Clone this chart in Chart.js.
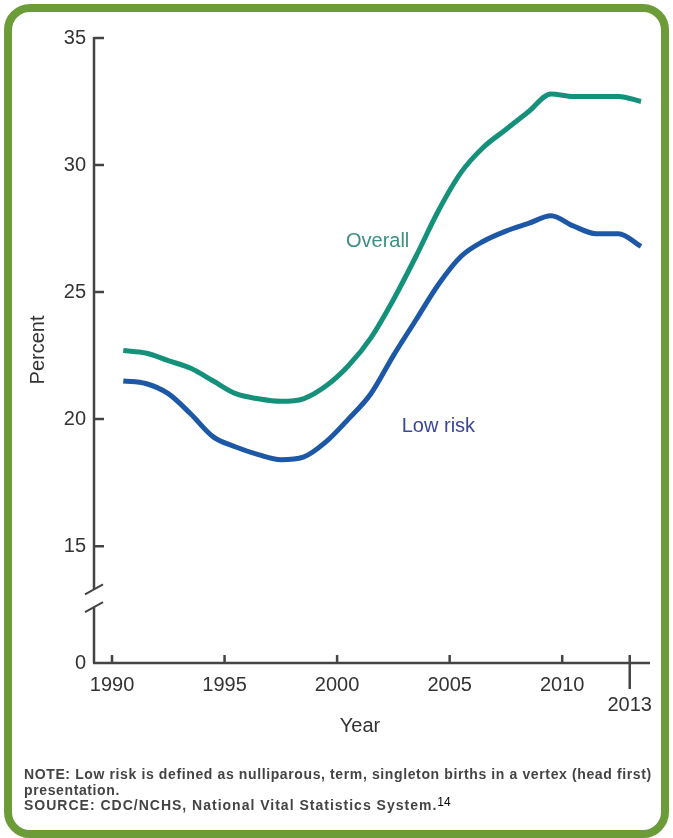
<!DOCTYPE html>
<html>
<head>
<meta charset="utf-8">
<script src="https://cdn.jsdelivr.net/npm/chart.js@4.4.1/dist/chart.umd.min.js"></script>
<style>
  html, body { margin: 0; padding: 0; background: #fff; }
  body { width: 673px; height: 838px; position: relative; overflow: hidden; font-family: "Liberation Sans", Arial, sans-serif; }
  #myChart { position: absolute; left: 0; top: 0; }
  .frame { position: absolute; left: 4px; top: 4px; width: 649px; height: 818px; border: 8px solid #6b9c38; border-radius: 26px; pointer-events: none; }
  .note { position: absolute; left: 24px; top: 767px; width: 645px; font-size: 14px; font-weight: bold; letter-spacing: 0.62px; line-height: 15.5px; color: #444; white-space: nowrap; }
  .note .src { letter-spacing: 1.0px; }
  .note sup { font-size: 12px; font-weight: normal; letter-spacing: 0; color: #000; position: relative; top: -4px; vertical-align: baseline; }
</style>
</head>
<body>
<canvas id="myChart" width="673" height="838"></canvas>
<div class="frame"></div>
<div class="note">
  NOTE: Low risk is defined as nulliparous, term, singleton births in a vertex (head first)<br>
  presentation.<br>
  <span class="src">SOURCE: CDC/NCHS, National Vital Statistics System.</span><sup>14</sup>
</div>
<script>
// annual cesarean rates, percent
const years = [1990, 1991, 1992, 1993, 1994, 1995, 1996, 1997, 1998, 1999, 2000, 2001,
               2002, 2003, 2004, 2005, 2006, 2007, 2008, 2009, 2010, 2011, 2012, 2013];
const overall = [22.7, 22.6, 22.3, 22.0, 21.5, 21.0, 20.8, 20.7, 20.8, 21.3, 22.1, 23.2,
                 24.7, 26.4, 28.2, 29.7, 30.7, 31.4, 32.1, 32.8, 32.7, 32.7, 32.7, 32.5];
const lowRisk = [21.5, 21.4, 21.0, 20.2, 19.3, 18.9, 18.6, 18.4, 18.5, 19.1, 20.0, 21.0,
                 22.5, 23.9, 25.3, 26.4, 27.0, 27.4, 27.7, 28.0, 27.6, 27.3, 27.3, 26.8];
const xTicks = [1990, 1995, 2000, 2005, 2010, 2013];
const yTicks = [15, 20, 25, 30, 35];
const yBase = 10.4;   // where the broken axis shows "0"
const yBreak = [12.6, 13.3];

const axisColor = '#444';
const tealColor = '#15917b';
const blueColor = '#1c58a6';

// points sit at mid-year
const toPoints = (vals) => vals.map((v, i) => ({ x: years[i] + 0.5, y: v }));

const axesPlugin = {
  id: 'axesPlugin',
  afterDraw(chart) {
    const ctx = chart.ctx;
    const xs = chart.scales.x;
    const ys = chart.scales.y;
    const left = chart.chartArea.left;
    const bottom = chart.chartArea.bottom;
    ctx.save();
    ctx.strokeStyle = axisColor;
    ctx.lineWidth = 2.5;
    ctx.lineCap = 'butt';

    // y axis with break
    ctx.beginPath();
    ctx.moveTo(left, ys.getPixelForValue(35) - 1);
    ctx.lineTo(left, ys.getPixelForValue(yBreak[1]));
    ctx.moveTo(left, ys.getPixelForValue(yBreak[0]));
    ctx.lineTo(left, bottom);
    ctx.stroke();

    // break slashes
    ctx.lineWidth = 2;
    ctx.beginPath();
    [yBreak[1], yBreak[0]].forEach((v) => {
      const py = ys.getPixelForValue(v);
      ctx.moveTo(left - 9, py + 5);
      ctx.lineTo(left + 9, py - 5);
    });
    ctx.stroke();

    // y ticks, inward
    ctx.lineWidth = 2.5;
    ctx.beginPath();
    yTicks.forEach((v) => {
      const py = ys.getPixelForValue(v);
      ctx.moveTo(left, py);
      ctx.lineTo(left + 10, py);
    });
    ctx.stroke();

    // x axis and ticks
    ctx.beginPath();
    ctx.moveTo(left - 1, bottom);
    ctx.lineTo(chart.chartArea.right, bottom);
    xTicks.forEach((v) => {
      const px = xs.getPixelForValue(v);
      ctx.moveTo(px, bottom);
      ctx.lineTo(px, bottom - 8);
    });
    const p13 = xs.getPixelForValue(2013);
    ctx.moveTo(p13, bottom);
    ctx.lineTo(p13, bottom + 26);
    ctx.stroke();

    // titles and series labels
    ctx.fillStyle = '#333';
    ctx.font = '20px "Liberation Sans", Arial, sans-serif';
    ctx.textAlign = 'center';
    ctx.textBaseline = 'middle';
    ctx.fillText('Year', 360, 726);
    ctx.save();
    ctx.translate(38, 350);
    ctx.rotate(-Math.PI / 2);
    ctx.fillText('Percent', 0, 0);
    ctx.restore();

    ctx.fillStyle = '#3d8f86';
    ctx.fillText('Overall', xs.getPixelForValue(2001.8), ys.getPixelForValue(27.0));
    ctx.fillStyle = '#3a4896';
    ctx.fillText('Low risk', xs.getPixelForValue(2004.5), ys.getPixelForValue(19.7));
    ctx.restore();
  }
};

const ctx = document.getElementById('myChart').getContext('2d');
const myChart = new Chart(ctx, {
  type: 'line',
  data: {
    datasets: [
      { label: 'Overall', data: toPoints(overall), borderColor: tealColor, backgroundColor: tealColor },
      { label: 'Low risk', data: toPoints(lowRisk), borderColor: blueColor, backgroundColor: blueColor }
    ]
  },
  options: {
    responsive: false,
    animation: false,
    layout: { padding: { left: 0, right: 23, top: 38, bottom: 103 } },
    elements: {
      line: { borderWidth: 5, cubicInterpolationMode: 'monotone', borderCapStyle: 'butt' },
      point: { radius: 0, hoverRadius: 0 }
    },
    plugins: { legend: { display: false }, tooltip: { enabled: false } },
    scales: {
      x: {
        type: 'linear',
        min: 1989.2,
        max: 2013.9,
        afterBuildTicks: (scale) => { scale.ticks = xTicks.map((v) => ({ value: v })); },
        afterFit: (scale) => { scale.height = 72; },
        grid: { display: false, drawTicks: false },
        border: { display: false },
        ticks: {
          padding: 12,
          color: '#333',
          font: { family: '"Liberation Sans", Arial, sans-serif', size: 20, lineHeight: 1.0 },
          maxRotation: 0,
          autoSkip: false,
          callback: (v) => (v === 2013 ? ['', '2013'] : String(v))
        }
      },
      y: {
        min: yBase,
        max: 35,
        afterBuildTicks: (scale) => { scale.ticks = [yBase].concat(yTicks).map((v) => ({ value: v })); },
        afterFit: (scale) => { scale.width = 94; },
        grid: { display: false, drawTicks: false },
        border: { display: false },
        ticks: {
          padding: 8,
          color: '#333',
          font: { family: '"Liberation Sans", Arial, sans-serif', size: 20 },
          autoSkip: false,
          callback: (v) => (v === yBase ? '0' : String(v))
        }
      }
    }
  },
  plugins: [axesPlugin]
});
</script>
</body>
</html>
